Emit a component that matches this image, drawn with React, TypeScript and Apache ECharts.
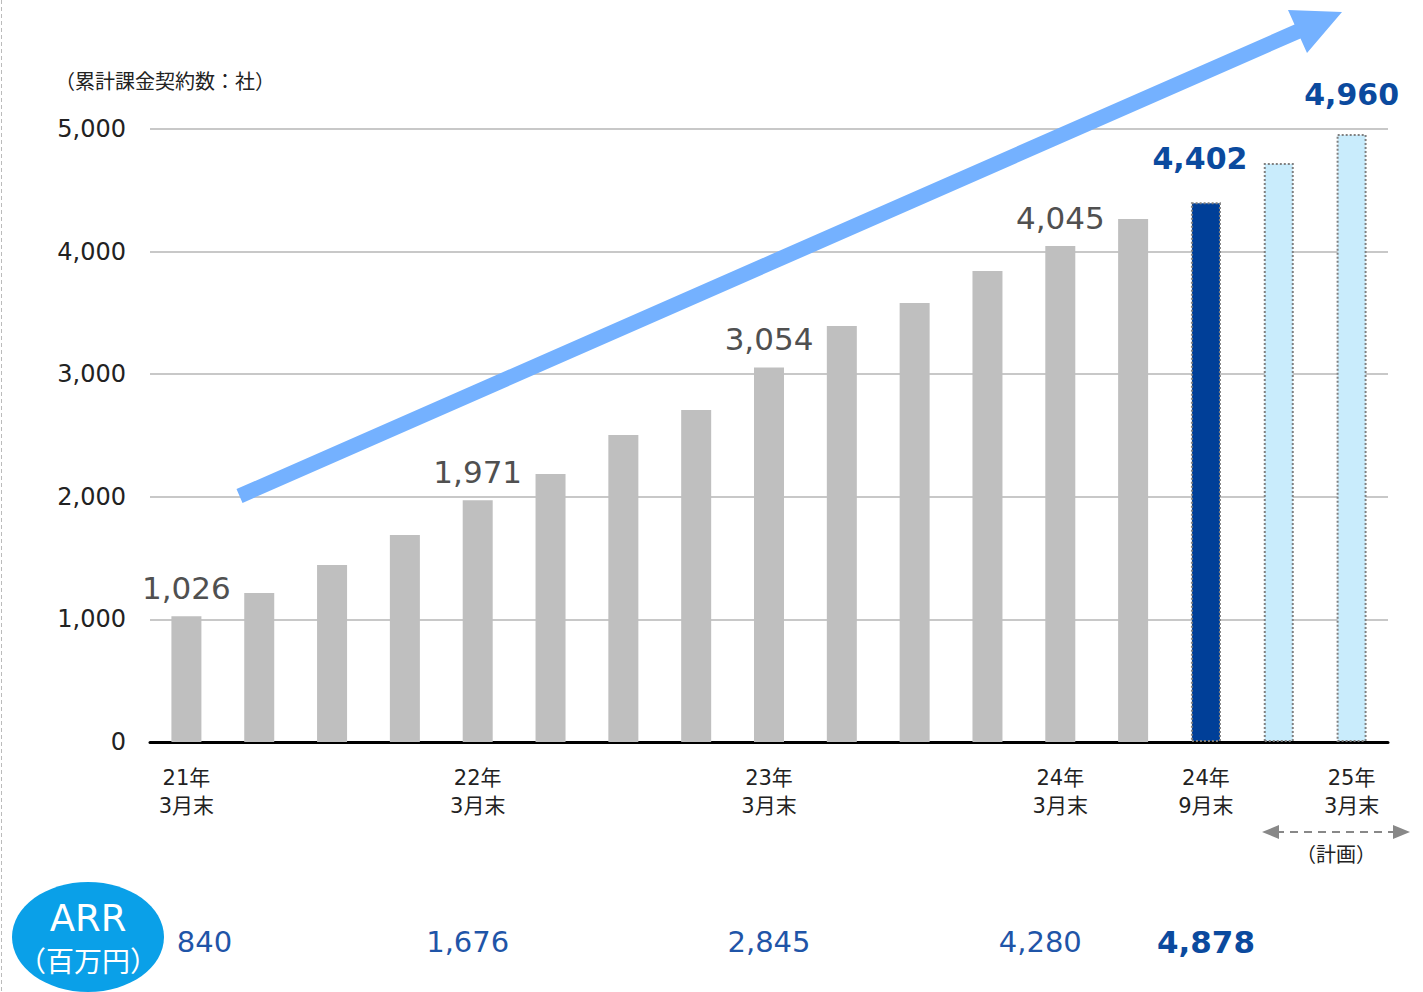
import React, { useEffect, useRef } from "react";
import * as echarts from "echarts";

const categories = [
  "21/03", "21/06", "21/09", "21/12", "22/03", "22/06", "22/09", "22/12",
  "23/03", "23/06", "23/09", "23/12", "24/03", "24/06", "24/09", "24/12", "25/03",
];
const xLabels = [
  "21年\n3月末", "", "", "", "22年\n3月末", "", "", "", "23年\n3月末", "", "", "",
  "24年\n3月末", "", "24年\n9月末", "", "25年\n3月末",
];
const contracts = [1026, 1215, 1444, 1688, 1971, 2186, 2504, 2708, 3054, 3393, 3581, 3842, 4045, 4266, 4402, 4723, 4960];
// kind: 0 = actual (gray), 1 = latest actual (dark blue), 2 = plan (light blue)
const barKind = [0, 0, 0, 0, 0, 0, 0, 0, 0, 0, 0, 0, 0, 0, 1, 2, 2];
// label style: 0 = none, 1 = gray label, 2 = bold blue label
const labelKind = [1, 0, 0, 0, 1, 0, 0, 0, 1, 0, 0, 0, 1, 0, 2, 0, 2];
const arrValues = ["840", "", "", "", "1,676", "", "", "", "2,845", "", "", "", "4,280", "", "4,878", "", ""];
const yTitle = "（累計課金契約数：社）";

const FONT = "'DejaVu Sans', 'Noto Sans CJK JP', sans-serif";
const CJK = "'Noto Sans CJK JP', sans-serif";

export default function App() {
  const ref = useRef<HTMLDivElement>(null);
  useEffect(() => {
    document.body.style.margin = "0";
    const chart = echarts.init(ref.current!, null, { renderer: "svg" });
    const barColors = ["#bfbfbf", "#003f98", "#c9ecfc"];
    const fmt = (p: any) => Number(p.value).toLocaleString("en-US");
    const data = contracts.map((v, i) => {
      const k = barKind[i];
      const lk = labelKind[i];
      return {
        value: v,
        itemStyle:
          k === 0
            ? { color: barColors[0] }
            : { color: barColors[k], borderColor: "#808080", borderWidth: 2, borderType: "dotted" },
        label:
          lk === 0
            ? { show: false }
            : lk === 1
            ? { show: true, position: "top", distance: 13, fontSize: 31, color: "#505050", fontFamily: FONT, formatter: fmt }
            : { show: true, position: "top", distance: k === 1 ? 29 : 24, offset: [k === 1 ? -6 : 0, 0], fontSize: 30, fontWeight: "bold", color: "#0b4a9e", fontFamily: FONT, formatter: fmt },
      };
    });
    chart.setOption({
      animation: false,
      textStyle: { fontFamily: FONT },
      grid: { left: 150, right: 35, top: 129, bottom: 250 },
      xAxis: [
        {
          type: "category",
          data: categories,
          axisLine: { lineStyle: { color: "#000", width: 3 } },
          axisTick: { show: false },
          axisLabel: {
            interval: 0,
            margin: 22,
            fontSize: 21,
            lineHeight: 28,
            color: "#222",
            fontFamily: FONT,
            formatter: (_v: string, i: number) => xLabels[i],
          },
        },
        {
          type: "category",
          data: categories,
          position: "bottom",
          offset: 200,
          axisLine: { show: false },
          axisTick: { show: false },
          axisLabel: {
            interval: 0,
            margin: 0,
            verticalAlign: "middle",
            fontFamily: FONT,
            formatter: (_v: string, i: number) => {
              const t = arrValues[i];
              if (t === "") return "";
              if (i === 14) return `{b|${t}}`;
              if (i === 0) return `{n0|${t}}`;
              if (i === 4) return `{n4|${t}}`;
              if (i === 12) return `{n12|${t}}`;
              return `{n|${t}}`;
            },
            rich: {
              n: { fontSize: 29, color: "#1f55a8", fontFamily: FONT },
              n0: { fontSize: 29, color: "#1f55a8", fontFamily: FONT, padding: [0, 0, 0, 36] },
              n4: { fontSize: 29, color: "#1f55a8", fontFamily: FONT, padding: [0, 20, 0, 0] },
              n12: { fontSize: 29, color: "#1f55a8", fontFamily: FONT, padding: [0, 40, 0, 0] },
              b: { fontSize: 31, color: "#0b4a9e", fontWeight: "bold", fontFamily: FONT },
            },
          },
        },
      ],
      yAxis: {
        type: "value",
        min: 0,
        max: 5000,
        interval: 1000,
        axisLine: { show: false },
        axisTick: { show: false },
        splitLine: { lineStyle: { color: "#c8c8c8", width: 2 } },
        axisLabel: {
          margin: 24,
          fontSize: 24,
          color: "#222",
          fontFamily: FONT,
          formatter: (v: number) => v.toLocaleString("en-US"),
        },
      },
      series: [
        {
          type: "bar",
          data,
          barWidth: 30,
          xAxisIndex: 0,
        },
      ],
      graphic: [
        {
          type: "line",
          shape: { x1: 1.5, y1: 0, x2: 1.5, y2: 992 },
          style: { stroke: "#bbbbbb", lineWidth: 1, lineDash: [4, 3] },
        },
        {
          type: "text",
          left: 55,
          top: 70,
          style: { text: yTitle, fontSize: 20, fill: "#222", fontFamily: CJK },
        },
        {
          type: "polygon",
          z: 10,
          shape: {
            points: [
              [236.5, 489.1], [1294.5, 24.6], [1288, 10], [1342, 12], [1307, 53], [1300.5, 38.4], [242.5, 502.9],
            ],
          },
          style: { fill: "#74b1ff" },
        },
        {
          type: "line",
          shape: { x1: 1276, y1: 832, x2: 1396, y2: 832 },
          style: { stroke: "#888", lineWidth: 2, lineDash: [8, 6] },
        },
        {
          type: "polygon",
          shape: { points: [[1262, 832], [1279, 825], [1279, 839]] },
          style: { fill: "#888" },
        },
        {
          type: "polygon",
          shape: { points: [[1410, 832], [1393, 825], [1393, 839]] },
          style: { fill: "#888" },
        },
        {
          type: "text",
          x: 1336,
          y: 853,
          style: { text: "（計画）", fontSize: 20, fill: "#222", fontFamily: CJK, align: "center", verticalAlign: "middle" },
        },
        {
          type: "ellipse",
          shape: { cx: 88, cy: 937, rx: 76, ry: 55 },
          style: { fill: "#0aa0e8" },
        },
        {
          type: "text",
          x: 88,
          y: 918,
          style: { text: "ARR", fontSize: 37, fill: "#fff", fontFamily: FONT, align: "center", verticalAlign: "middle" },
        },
        {
          type: "text",
          x: 88,
          y: 960,
          style: { text: "（百万円）", fontSize: 28, fill: "#fff", fontFamily: CJK, align: "center", verticalAlign: "middle" },
        },
      ],
    });
    return () => chart.dispose();
  }, []);
  return <div ref={ref} style={{ position: "absolute", left: 0, top: 0, width: 1423, height: 992 }} />;
}
